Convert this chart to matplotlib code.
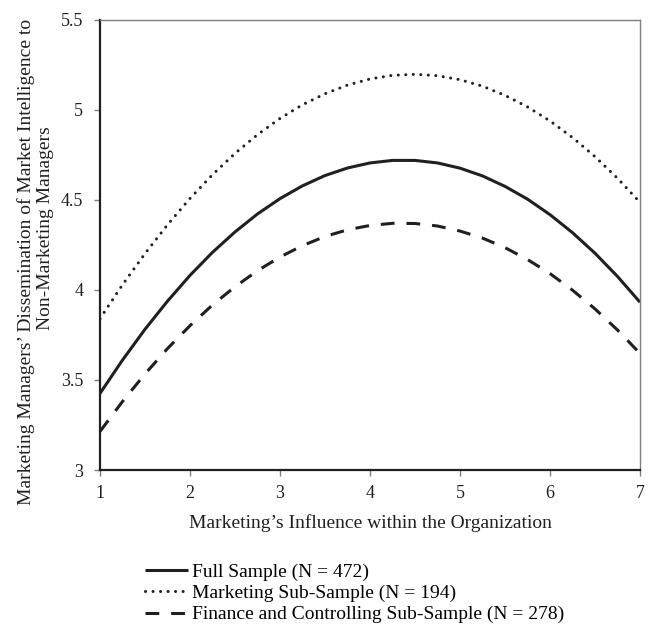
import matplotlib
matplotlib.use("Agg")
import matplotlib.pyplot as plt

# values (x step 0.25)
x_vals = [1.0, 1.25, 1.5, 1.75, 2.0, 2.25, 2.5, 2.75, 3.0, 3.25, 3.5, 3.75, 4.0,
          4.25, 4.5, 4.75, 5.0, 5.25, 5.5, 5.75, 6.0, 6.25, 6.5, 6.75, 7.0]

full_sample = [3.425, 3.610, 3.781, 3.937, 4.080, 4.208, 4.321, 4.421, 4.506,
               4.577, 4.634, 4.676, 4.704, 4.718, 4.718, 4.704, 4.675, 4.632,
               4.574, 4.503, 4.417, 4.317, 4.203, 4.074, 3.931]

marketing_sub = [3.840, 4.028, 4.201, 4.361, 4.507, 4.639, 4.757, 4.861, 4.951,
                 5.027, 5.088, 5.136, 5.170, 5.190, 5.196, 5.188, 5.166, 5.130,
                 5.079, 5.015, 4.937, 4.845, 4.739, 4.619, 4.485]

finance_sub = [3.214, 3.380, 3.533, 3.674, 3.801, 3.916, 4.017, 4.106, 4.182,
               4.245, 4.296, 4.333, 4.357, 4.369, 4.368, 4.354, 4.326, 4.287,
               4.234, 4.168, 4.090, 3.998, 3.894, 3.777, 3.647]

labels = [
    "Full Sample (N = 472)",
    "Marketing Sub-Sample (N = 194)",
    "Finance and Controlling Sub-Sample (N = 278)",
]

x_ticks = [1, 2, 3, 4, 5, 6, 7]
y_ticks = [3, 3.5, 4, 4.5, 5, 5.5]
y_ticklabels = ["3", "3.5", "4", "4.5", "5", "5.5"]

ylabel_lines = [
    "Marketing Managers\u2019 Dissemination of Market Intelligence to",
    "Non-Marketing Managers",
]

INK = "#231f20"
GREY = "#7f7f7f"

plt.rcParams["font.family"] = ["Liberation Serif", "DejaVu Serif"]

W, H = 653, 626
fig = plt.figure(figsize=(W / 100, H / 100), dpi=100)
ax = fig.add_axes([100 / W, 1 - 470 / H, 540 / W, 450.5 / H])

lw = 2.2
ax.plot(x_vals, full_sample, color=INK, lw=lw, solid_capstyle="butt", label=labels[0])
ax.plot(x_vals, marketing_sub, color=INK, lw=lw, linestyle=(0, (0.01, 2.45)),
        dash_capstyle="round", label=labels[1])
ax.plot(x_vals, finance_sub, color=INK, lw=lw, linestyle=(0, (4.5, 3.9)),
        dash_capstyle="butt", label=labels[2])

ax.set_xlim(1, 7)
ax.set_ylim(3, 5.5)
ax.set_xticks(x_ticks)
ax.set_yticks(y_ticks)
ax.set_yticklabels(y_ticklabels)
ax.tick_params(axis="both", direction="out", length=4, width=1, color=GREY,
               labelcolor=INK, labelsize=13)
ax.tick_params(axis="y", pad=8)
ax.tick_params(axis="x", pad=7)

for side in ["left", "bottom"]:
    ax.spines[side].set_color(INK)
    ax.spines[side].set_linewidth(1.6)
for side in ["top", "right"]:
    ax.spines[side].set_color(GREY)
    ax.spines[side].set_linewidth(1.0)

ax.set_xlabel("Marketing\u2019s Influence within the Organization", color=INK,
              fontsize=14)
ax.xaxis.set_label_coords(0.5, -44 / 450.5)

# y label: two lines placed separately (second line sits higher in the original)
fig.text(26 / W, 1 - 262 / H, ylabel_lines[0], rotation=90, ha="center",
         va="center", fontsize=14, color=INK)
fig.text(46 / W, 1 - 228 / H, ylabel_lines[1], rotation=90, ha="center",
         va="center", fontsize=14, color=INK)

fig.legend(loc="upper left", bbox_to_anchor=(145 / W, 1 - 563 / H),
           frameon=False, fontsize=14, handlelength=2.2, handletextpad=0.2,
           labelspacing=0.19, borderpad=0, borderaxespad=0)

fig.savefig("out.png", dpi=100, facecolor="white")
